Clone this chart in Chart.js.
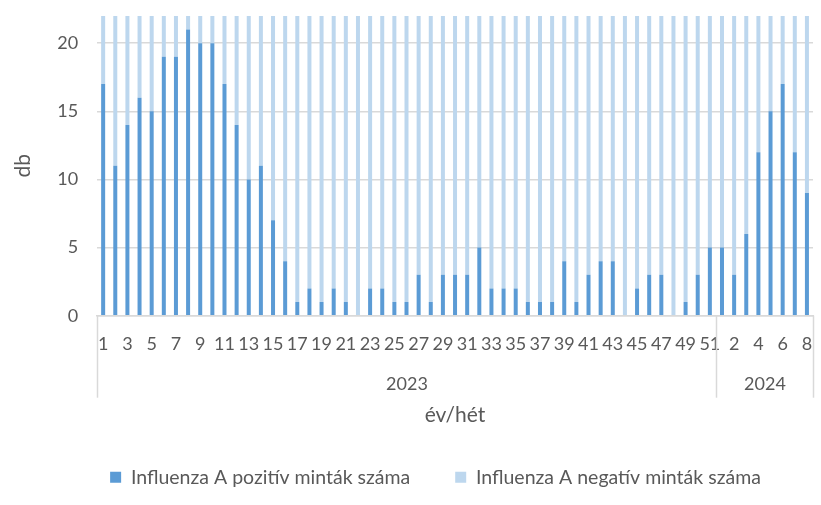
<!DOCTYPE html>
<html lang="hu">
<head>
  <meta charset="UTF-8" />
  <title>Influenza A minták</title>
  <script src="https://cdn.jsdelivr.net/npm/chart.js"></script>
  <style>
    html, body { margin: 0; padding: 0; background: #fff; }
    #wrap { width: 821px; height: 505px; }
  </style>
</head>
<body>
  <div id="wrap"><canvas id="fluChart"></canvas></div>

  <script>
    // years and the weeks shown for each of them
    const years = ['2023', '2024'];
    const weeks2023 = ['1','2','3','4','5','6','7','8','9','10','11','12','13','14','15','16','17','18','19','20',
      '21','22','23','24','25','26','27','28','29','30','31','32','33','34','35','36','37','38','39','40',
      '41','42','43','44','45','46','47','48','49','50','51'];
    const weeks2024 = ['1','2','3','4','5','6','7','8'];

    // positive samples per week (2023 w1..w51, then 2024 w1..w8)
    const positive = [17, 11, 14, 16, 15, 19, 19, 21, 20, 20,
      17, 14, 10, 11, 7, 4, 1, 2, 1, 2,
      1, 0, 2, 2, 1, 1, 3, 1, 3, 3,
      3, 5, 2, 2, 2, 1, 1, 1, 4, 1,
      3, 4, 4, 0, 2, 3, 3, 0, 1, 3, 5,
      5, 3, 6, 12, 15, 17, 12, 9];

    // negative samples: they run past the top of the axis on every week
    const negative = [42, 48, 51, 55, 60, 58, 62, 57, 54, 50,
      47, 45, 44, 41, 43, 40, 38, 36, 39, 35,
      37, 34, 33, 36, 32, 35, 31, 34, 30, 33,
      36, 32, 35, 31, 34, 38, 33, 36, 40, 37,
      41, 39, 43, 45, 42, 46, 44, 48, 47, 52, 55,
      58, 62, 60, 57, 54, 51, 49, 46];

    const yTicks = [0, 5, 10, 15, 20];
    const yMax = 22;

    const labels = weeks2023.concat(weeks2024);
    const groupSizes = [weeks2023.length, weeks2024.length];

    const textColor = '#595959';
    const lineColor = '#D9D9D9';
    Chart.defaults.font.family = 'Lato, sans-serif';
    Chart.defaults.color = textColor;

    // second row of the category axis: year names with separators
    const yearGroups = {
      id: 'yearGroups',
      afterDraw(chart) {
        const x = chart.scales.x;
        const ctx = chart.ctx;
        const half = (x.getPixelForValue(1) - x.getPixelForValue(0)) / 2;
        const top = chart.chartArea.bottom;
        const bottom = top + 82;
        const edge = i => Math.round(x.getPixelForValue(i) - half) + 0.5;
        const vline = px => {
          ctx.beginPath();
          ctx.moveTo(px, top);
          ctx.lineTo(px, bottom);
          ctx.stroke();
        };
        ctx.save();
        ctx.strokeStyle = lineColor;
        ctx.lineWidth = 1.5;
        ctx.fillStyle = textColor;
        ctx.font = '18px Lato, sans-serif';
        ctx.textAlign = 'center';
        ctx.textBaseline = 'middle';
        let start = 0;
        vline(edge(0));
        years.forEach((yr, k) => {
          const end = start + groupSizes[k];
          const l = edge(start), r = edge(end);
          vline(r);
          ctx.fillText(yr, (l + r) / 2, top + 68);
          start = end;
        });
        ctx.restore();
      }
    };

    // legend sits a bit right of the canvas centre, under the plot
    const legendShift = {
      id: 'legendShift',
      afterLayout(chart) {
        chart.legend.left += 29;
        chart.legend.right += 29;
      }
    };

    new Chart(document.getElementById('fluChart'), {
      type: 'bar',
      data: {
        labels: labels,
        datasets: [
          {
            label: 'Influenza A pozitív minták száma',
            data: positive,
            backgroundColor: '#5B9BD5',
            barPercentage: 0.33,
            categoryPercentage: 1
          },
          {
            label: 'Influenza A negatív minták száma',
            data: negative,
            backgroundColor: '#BDD7EE',
            barPercentage: 0.33,
            categoryPercentage: 1
          }
        ]
      },
      options: {
        responsive: true,
        maintainAspectRatio: false,
        animation: false,
        layout: { padding: { top: 16, right: 8, left: 0, bottom: 8 } },
        plugins: {
          legend: {
            position: 'bottom',
            labels: { boxWidth: 11, boxHeight: 11, padding: 45, font: { size: 19.5 }, color: textColor }
          },
          tooltip: { enabled: false }
        },
        scales: {
          x: {
            stacked: true,
            grid: { display: false, drawTicks: true, tickLength: 15 },
            border: { color: lineColor, width: 1.5 },
            ticks: {
              autoSkip: false,
              maxRotation: 0,
              minRotation: 0,
              padding: 3,
              font: { size: 18 },
              callback: (v, i) => (i % 2 === 0 ? labels[i] : '')
            },
            title: {
              display: true,
              text: 'év/hét',
              font: { size: 21, lineHeight: 0.7 },
              padding: { top: 49.5, bottom: 0 }
            }
          },
          y: {
            stacked: true,
            min: 0,
            max: yMax,
            afterBuildTicks: s => { s.ticks = yTicks.map(v => ({ value: v })); },
            grid: { color: lineColor, lineWidth: 1.5, drawTicks: true, tickLength: 16, tickColor: 'rgba(0,0,0,0)' },
            border: { display: false },
            ticks: { padding: 3, font: { size: 18 } },
            title: {
              display: true,
              text: 'db',
              font: { size: 21, lineHeight: 1.2 },
              padding: { top: 11, bottom: 18 }
            }
          }
        }
      },
      plugins: [yearGroups, legendShift]
    });
  </script>
</body>
</html>
